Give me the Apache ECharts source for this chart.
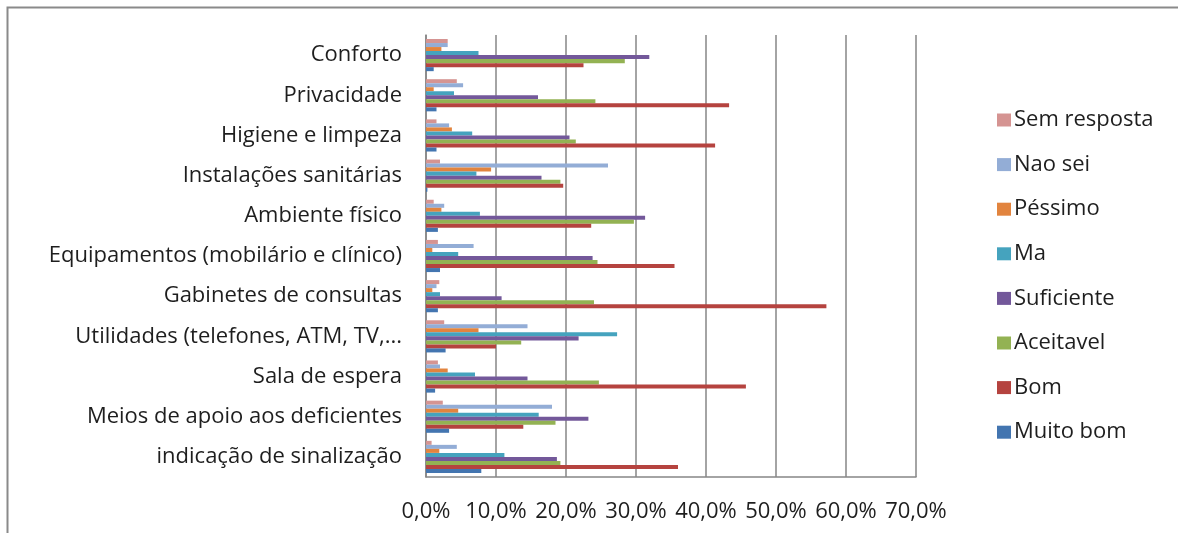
<!DOCTYPE html>
<html>
<head>
<meta charset="utf-8">
<script src="https://cdn.jsdelivr.net/npm/echarts@6/dist/echarts.min.js"></script>
<style>
  html, body { margin: 0; padding: 0; background: #ffffff; }
  #chart { width: 1178px; height: 533px; }
</style>
</head>
<body>
<div id="chart"></div>
<script>
// Aspects evaluated, listed top to bottom
const categories = [
  'Conforto',
  'Privacidade',
  'Higiene e limpeza',
  'Instalações sanitárias',
  'Ambiente físico',
  'Equipamentos (mobilário e clínico)',
  'Gabinetes de consultas',
  'Utilidades (telefones, ATM, TV,...',
  'Sala de espera',
  'Meios de apoio aos deficientes',
  'indicação de sinalização'
];

// Share of answers (%) per rating, same order as categories
const semResposta = [3.1, 4.4, 1.5, 2.0, 1.1, 1.7, 1.9, 2.6, 1.7, 2.4, 0.8];
const naoSei      = [3.1, 5.3, 3.3, 26.0, 2.6, 6.8, 1.5, 14.5, 2.0, 18.0, 4.4];
const pessimo     = [2.2, 1.1, 3.7, 9.3, 2.2, 0.9, 0.9, 7.5, 3.1, 4.6, 1.9];
const ma          = [7.5, 4.0, 6.6, 7.2, 7.7, 4.6, 2.0, 27.3, 7.0, 16.1, 11.2];
const suficiente  = [31.9, 16.0, 20.5, 16.5, 31.3, 23.8, 10.8, 21.8, 14.5, 23.2, 18.7];
const aceitavel   = [28.4, 24.2, 21.4, 19.2, 29.7, 24.5, 24.0, 13.6, 24.7, 18.5, 19.2];
const bom         = [22.5, 43.3, 41.3, 19.6, 23.6, 35.5, 57.2, 10.0, 45.7, 13.9, 36.0];
const muitoBom    = [1.1, 1.5, 1.5, 0.2, 1.7, 2.0, 1.7, 2.8, 1.3, 3.3, 7.9];

const seriesNames = ['Sem resposta', 'Nao sei', 'Péssimo', 'Ma', 'Suficiente', 'Aceitavel', 'Bom', 'Muito bom'];
const seriesValues = [semResposta, naoSei, pessimo, ma, suficiente, aceitavel, bom, muitoBom];
const seriesColors = ['#D59492', '#93ADD6', '#E2843E', '#45A3BE', '#73589A', '#93B253', '#B5433F', '#4375B0'];

// x axis ticks (%)
const xMin = 0, xMax = 70, xStep = 10;

const FONT = '"Open Sans", "Noto Sans", sans-serif';

const chart = echarts.init(document.getElementById('chart'), null, { renderer: 'canvas' });

chart.setOption({
  animation: false,
  backgroundColor: '#ffffff',
  textStyle: { fontFamily: FONT },
  graphic: [{
    type: 'rect',
    shape: { x: 7.5, y: 7.5, width: 1200, height: 560 },
    style: { fill: 'none', stroke: '#8a8a8a', lineWidth: 2 },
    silent: true,
    z: -1
  }],
  grid: { left: 426, right: 262, top: 35, bottom: 56, containLabel: false },
  legend: {
    orient: 'vertical',
    left: 992,
    top: 104,
    itemWidth: 14,
    itemHeight: 13,
    itemGap: 22.6,
    icon: 'rect',
    textStyle: { fontFamily: FONT, fontSize: 22, lineHeight: 22, color: '#1e1e1e', padding: [0, 0, 0, -2] },
    data: seriesNames
  },
  xAxis: {
    type: 'value',
    min: xMin,
    max: xMax,
    interval: xStep,
    axisLine: { show: true, lineStyle: { color: '#868686', width: 1.5 } },
    axisTick: { show: false },
    splitLine: { show: true, lineStyle: { color: '#868686', width: 1.5 } },
    axisLabel: {
      fontFamily: FONT,
      fontSize: 22,
      color: '#1e1e1e',
      margin: 24,
      formatter: v => v.toFixed(1).replace('.', ',') + '%'
    }
  },
  yAxis: {
    type: 'category',
    data: categories,
    inverse: true,
    axisLine: { show: true, lineStyle: { color: '#868686', width: 1.5 } },
    axisTick: { show: false },
    axisLabel: {
      fontFamily: FONT,
      fontSize: 22,
      color: '#1e1e1e',
      margin: 24
    }
  },
  series: seriesNames.map((name, i) => ({
    name,
    type: 'bar',
    data: seriesValues[i],
    barGap: '0%',
    barCategoryGap: '20%',
    itemStyle: { color: seriesColors[i] }
  }))
});
</script>
</body>
</html>
